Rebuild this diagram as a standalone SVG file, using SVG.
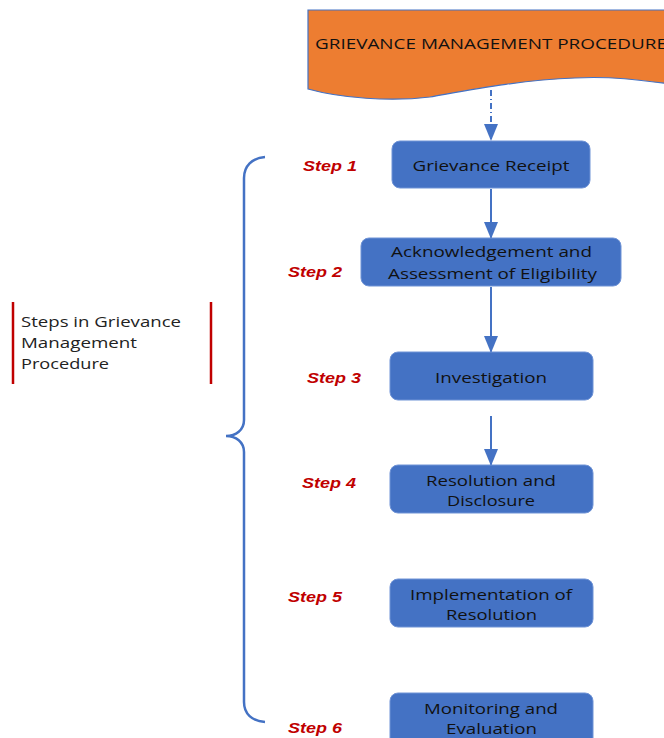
<svg xmlns="http://www.w3.org/2000/svg" width="664" height="738" viewBox="0 0 664 738">
<style>
.box{fill:#4472C4;stroke:#6F93D6;stroke-width:1}
.bt{font-family:"Open Sans","Liberation Sans",sans-serif;font-size:15px;fill:#111;text-anchor:middle;dominant-baseline:central}
.step{font-family:"Liberation Sans",Arial,sans-serif;font-size:15px;font-weight:bold;font-style:italic;fill:#C00000;dominant-baseline:central}
.conn{stroke:#4472C4;stroke-width:2;fill:none}
.lt{font-family:"Open Sans","Liberation Sans",sans-serif;font-size:15px;fill:#222}
</style>
<defs>
<marker id="ah" viewBox="0 0 14 17" refX="7" refY="16" markerWidth="14" markerHeight="17" markerUnits="userSpaceOnUse" orient="0">
<path d="M0,0 L14,0 L7,17 Z" fill="#4472C4"/>
</marker>
</defs>
<rect width="664" height="738" fill="#fff"/>
<g id="title">
<path d="M308,10 L670,10 L670,84 C640,80 610,76 575,78 C520,80 470,90 430,97 C390,102 340,98 308,89 Z" fill="#ED7D31" stroke="#4472C4" stroke-width="1.2"/>
<text x="315" y="43" font-family="Open Sans,Liberation Sans,sans-serif" font-size="15" fill="#111" dominant-baseline="central" textLength="352" lengthAdjust="spacingAndGlyphs">GRIEVANCE MANAGEMENT PROCEDURE</text>
</g>
<g id="connectors">
<line x1="491" y1="90" x2="491" y2="140" class="conn" stroke-dasharray="6,3,1,3" marker-end="url(#ah)"/>
<line x1="491" y1="189" x2="491" y2="238" class="conn" marker-end="url(#ah)"/>
<line x1="491" y1="287" x2="491" y2="352" class="conn" marker-end="url(#ah)"/>
<line x1="491" y1="416" x2="491" y2="465" class="conn" marker-end="url(#ah)"/>
<path d="M265,157 C252,158 244,166 244,178 L244,420 C244,430 236,436 226,436 C236,436 244,442 244,452 L244,702 C244,714 252,721 265,722" stroke="#4472C4" stroke-width="2.5" fill="none"/>
</g>
<g id="n1"><rect class="box" x="392" y="141" width="198" height="47" rx="8"/><text class="bt" x="491" y="165" textLength="157" lengthAdjust="spacingAndGlyphs">Grievance Receipt</text></g>
<g id="n2"><rect class="box" x="361" y="238" width="260" height="48" rx="8"/><text class="bt" x="491.5" y="251" textLength="201" lengthAdjust="spacingAndGlyphs">Acknowledgement and</text><text class="bt" x="492.5" y="273" textLength="209" lengthAdjust="spacingAndGlyphs">Assessment of Eligibility</text></g>
<g id="n3"><rect class="box" x="390" y="352" width="203" height="48" rx="8"/><text class="bt" x="491" y="377" textLength="112" lengthAdjust="spacingAndGlyphs">Investigation</text></g>
<g id="n4"><rect class="box" x="390" y="465" width="203" height="48" rx="8"/><text class="bt" x="491" y="480" textLength="130" lengthAdjust="spacingAndGlyphs">Resolution and</text><text class="bt" x="491" y="500" textLength="88" lengthAdjust="spacingAndGlyphs">Disclosure</text></g>
<g id="n5"><rect class="box" x="390" y="579" width="203" height="48" rx="8"/><text class="bt" x="491" y="594" textLength="162" lengthAdjust="spacingAndGlyphs">Implementation of</text><text class="bt" x="491.5" y="614" textLength="91" lengthAdjust="spacingAndGlyphs">Resolution</text></g>
<g id="n6"><rect class="box" x="390" y="693" width="203" height="56" rx="8"/><text class="bt" x="491" y="708" textLength="134" lengthAdjust="spacingAndGlyphs">Monitoring and</text><text class="bt" x="491.5" y="728" textLength="91" lengthAdjust="spacingAndGlyphs">Evaluation</text></g>
<g id="steps">
<text class="step" x="303" y="165" textLength="54" lengthAdjust="spacingAndGlyphs">Step 1</text>
<text class="step" x="288" y="271" textLength="54" lengthAdjust="spacingAndGlyphs">Step 2</text>
<text class="step" x="307" y="377" textLength="54" lengthAdjust="spacingAndGlyphs">Step 3</text>
<text class="step" x="302" y="482" textLength="54" lengthAdjust="spacingAndGlyphs">Step 4</text>
<text class="step" x="288" y="596" textLength="54" lengthAdjust="spacingAndGlyphs">Step 5</text>
<text class="step" x="288" y="727" textLength="54" lengthAdjust="spacingAndGlyphs">Step 6</text>
</g>
<g id="label">
<line x1="13" y1="302" x2="13" y2="384" stroke="#C00000" stroke-width="2.5"/>
<line x1="211" y1="302" x2="211" y2="384" stroke="#C00000" stroke-width="2.5"/>
<text class="lt" x="21" y="327" textLength="160" lengthAdjust="spacingAndGlyphs">Steps in Grievance</text>
<text class="lt" x="21" y="348" textLength="116" lengthAdjust="spacingAndGlyphs">Management</text>
<text class="lt" x="21" y="369" textLength="88" lengthAdjust="spacingAndGlyphs">Procedure</text>
</g>
</svg>
